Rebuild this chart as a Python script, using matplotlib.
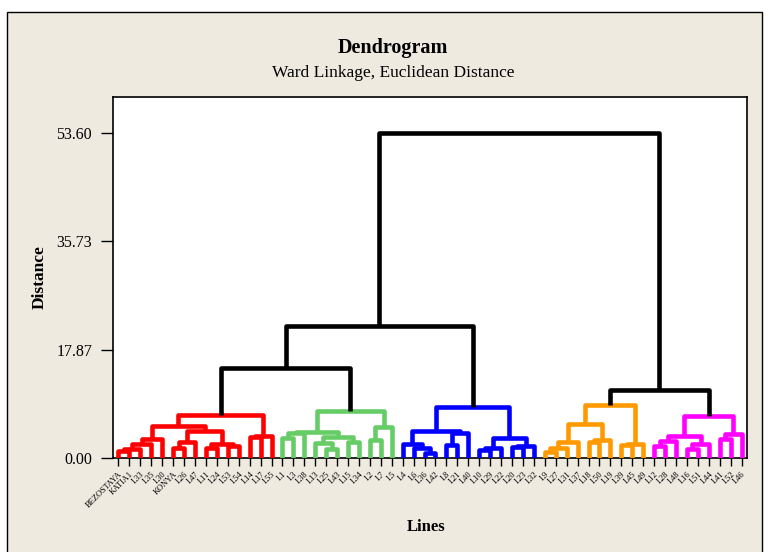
# Dendrogram - Ward linkage, Euclidean distance
import matplotlib.pyplot as plt
from matplotlib.patches import Rectangle

plt.rcParams['font.family'] = ['Liberation Serif', 'DejaVu Serif']

# leaf order along the x axis
leaves = ['BEZOSTAYA', 'KATIA1', 'L33', 'L35', 'L30', 'KONYA', 'L26', 'L47', 'L11', 'L24',
          'L53', 'L54', 'L14', 'L17', 'L55',
          'L1', 'L3', 'L38', 'L13', 'L25', 'L43', 'L15', 'L34', 'L2', 'L7', 'L5',
          'L4', 'L6', 'L36', 'L42', 'L8', 'L21', 'L40', 'L10', 'L29', 'L22', 'L20', 'L23', 'L32',
          'L9', 'L27', 'L31', 'L37', 'L18', 'L50', 'L19', 'L39', 'L45', 'L49',
          'L12', 'L28', 'L48', 'L16', 'L51', 'L44', 'L41', 'L52', 'L46']

# merges: (left, right, distance); ints refer to earlier merges
merges = [
    ('BEZOSTAYA', 'KATIA1', 1.1), (0, 'L33', 1.5), (1, 'L35', 2.3), (2, 'L30', 3.1),
    ('KONYA', 'L26', 1.6), (4, 'L47', 2.6), ('L11', 'L24', 1.6), ('L53', 'L54', 1.9),
    (6, 7, 2.3), (5, 8, 4.5), (3, 9, 5.3), ('L14', 'L17', 3.45), (11, 'L55', 3.7),
    (10, 12, 7.1),
    ('L1', 'L3', 3.3), (14, 'L38', 4.2), ('L25', 'L43', 1.5), ('L13', 16, 2.5),
    ('L15', 'L34', 2.7), (17, 18, 3.45), (15, 19, 4.35), ('L2', 'L7', 2.9), (21, 'L5', 5.1),
    (20, 22, 7.8),
    (13, 23, 14.8),
    ('L36', 'L42', 0.9), ('L6', 25, 1.7), ('L4', 26, 2.25), ('L8', 'L21', 2.2),
    (28, 'L40', 4.2), (27, 29, 4.4), ('L10', 'L29', 1.35), (31, 'L22', 1.6),
    ('L20', 'L23', 1.85), (33, 'L32', 1.95), (32, 34, 3.3), (30, 35, 8.4),
    (24, 36, 21.7),
    ('L9', 'L27', 1.0), (38, 'L31', 1.65), (39, 'L37', 2.6), ('L18', 'L50', 2.6),
    (41, 'L19', 3.0), (40, 42, 5.6), ('L39', 'L45', 2.2), (44, 'L49', 2.35), (43, 45, 8.8),
    ('L12', 'L28', 1.9), (47, 'L48', 2.85), ('L16', 'L51', 1.5), (49, 'L44', 2.35),
    (48, 50, 3.7), ('L41', 'L52', 3.1), (52, 'L46', 4.0), (51, 53, 7.0),
    (46, 54, 11.2),
    (37, 55, 53.6),
]

# final clusters and their colours
clusters = [leaves[0:15], leaves[15:26], leaves[26:39], leaves[39:49], leaves[49:58]]
cluster_colors = ['#FF0000', '#66CC66', '#0000FF', '#FF9900', '#FF00FF']

yticks = [0.0, 17.87, 35.73, 53.60]

fig = plt.figure(figsize=(7.71, 5.52), dpi=100)
fig.patch.set_facecolor('white')
fig.patches.append(Rectangle((7 / 771, -0.01), 755 / 771, 1 - 12 / 552 + 0.01,
                             transform=fig.transFigure, facecolor='#EEEAE0',
                             edgecolor='black', linewidth=1, zorder=-10))

ax = fig.add_axes([113 / 771, 1 - 458 / 552, 634 / 771, 361 / 552])
ax.set_facecolor('white')
ax.set_zorder(2)

pos = {name: i for i, name in enumerate(leaves)}
height = {name: 0.0 for name in leaves}
members = {name: {name} for name in leaves}

for k, (a, b, h) in enumerate(merges):
    xa, xb = pos[a], pos[b]
    ha, hb = height[a], height[b]
    mem = members[a] | members[b]
    color = 'black'
    for grp, c in zip(clusters, cluster_colors):
        if mem <= set(grp):
            color = c
    ax.plot([xa, xa, xb, xb], [ha, h, h, hb], color=color, linewidth=3.3,
            solid_joinstyle='round', solid_capstyle='butt', zorder=3)
    pos[k] = (xa + xb) / 2
    height[k] = h
    members[k] = mem

ax.set_xlim(-0.5, len(leaves) - 0.5)
ax.set_ylim(0, 59.5)
ax.set_xticks(range(len(leaves)))
ax.set_xticklabels(leaves, rotation=45, ha='right', va='top', fontsize=6,
                   rotation_mode='anchor')
ax.set_yticks(yticks)
ax.set_yticklabels([f'{v:.2f}' for v in yticks], fontsize=11.5)
ax.tick_params(axis='both', direction='out', width=1, color='black')
ax.tick_params(axis='x', length=6, pad=3)
ax.tick_params(axis='y', length=9, pad=6)
for s in ax.spines.values():
    s.set_linewidth(1.2)
    s.set_color('black')

fig.text(0.51, 1 - 48 / 552, 'Dendrogram', ha='center', va='center',
         fontsize=14.5, fontweight='bold')
fig.text(0.51, 1 - 73 / 552, 'Ward Linkage, Euclidean Distance', ha='center',
         va='center', fontsize=12.5)
fig.text(0.553, 1 - 527 / 552, 'Lines', ha='center', va='center', fontsize=12,
         fontweight='bold')
fig.text(40 / 771, 1 - 277 / 552, 'Distance', ha='center', va='center', rotation=90,
         fontsize=12.5, fontweight='bold')

fig.savefig('out.png', dpi=100)
